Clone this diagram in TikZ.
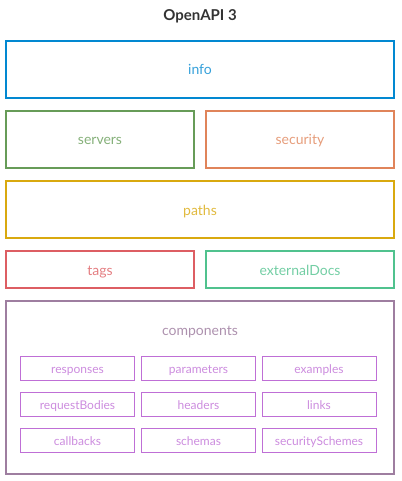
\documentclass[tikz,border=0pt]{standalone}
\usepackage{fontspec}
\setmainfont{Lato}
\usepackage{tikz}
\usetikzlibrary{positioning}

\definecolor{infoblue}{HTML}{0288D1}
\definecolor{servgreen}{HTML}{679C58}
\definecolor{secorange}{HTML}{E0845A}
\definecolor{pathgold}{HTML}{D9A90F}
\definecolor{tagred}{HTML}{DD5E63}
\definecolor{docsgreen}{HTML}{50C28E}
\definecolor{compmauve}{HTML}{9E7EA0}
\definecolor{suborchid}{HTML}{BF6FD6}
\definecolor{titlegray}{HTML}{333333}

\begin{document}
\begin{tikzpicture}[
    x=1pt, y=-1pt,
    part/.style={rectangle, draw=#1, line width=2pt, text=#1!80!white, font=\fontsize{14}{16}\selectfont, inner sep=0pt, text height=11pt, text depth=0pt},
    wide/.style={minimum width=388pt},
    half/.style={minimum width=188pt},
    sub/.style={rectangle, draw=suborchid, line width=1pt, text=suborchid!80!white, minimum width=114pt, minimum height=24pt, inner sep=0pt, text height=9pt, text depth=0pt, font=\fontsize{12}{14}\selectfont}
]
    \useasboundingbox (0,0) rectangle (401,481);

    % Title
    \node[font=\fontsize{15}{17}\selectfont\bfseries, text=titlegray] (title) at (200,16) {OpenAPI 3};

    % Top level fields
    \node[part=infoblue, wide, minimum height=57pt] (info) at (200,69.5) {info};
    \node[part=servgreen, half, minimum height=57pt] (servers) at (100,139.5) {servers};
    \node[part=secorange, half, minimum height=57pt] (security) at (300,139.5) {security};
    \node[part=pathgold, wide, minimum height=57pt] (paths) at (200,209.5) {paths};
    \node[part=tagred, half, minimum height=37pt] (tags) at (100,269.5) {tags};
    \node[part=docsgreen, half, minimum height=37pt] (externalDocs) at (300,269.5) {externalDocs};

    % Components
    \node[part=compmauve, wide, minimum height=173pt] (components) at (200,387.5) {};
    \node[font=\fontsize{14}{16}\selectfont, text=compmauve!85!white, text height=10pt, text depth=0pt] (complabel) at (200,330) {components};

    \node[sub] (responses) at (77.5,368.5) {responses};
    \node[sub] (parameters) at (198.5,368.5) {parameters};
    \node[sub] (examples) at (319,368.5) {examples};
    \node[sub] (requestBodies) at (77.5,404.5) {requestBodies};
    \node[sub] (headers) at (198.5,404.5) {headers};
    \node[sub] (links) at (319,404.5) {links};
    \node[sub] (callbacks) at (77.5,440.5) {callbacks};
    \node[sub] (schemas) at (198.5,440.5) {schemas};
    \node[sub] (securitySchemes) at (319,440.5) {securitySchemes};

\end{tikzpicture}
\end{document}
